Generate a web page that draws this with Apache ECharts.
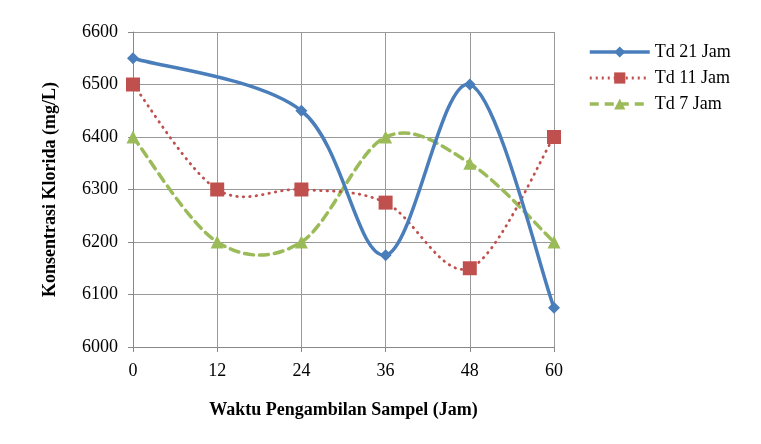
<!DOCTYPE html>
<html><head><meta charset="utf-8">
<script src="https://cdn.jsdelivr.net/npm/echarts@6/dist/echarts.min.js"></script>
<style>html,body{margin:0;padding:0;background:#fff}#c{width:761px;height:444px}</style>
</head><body><div id="c"></div>
<script>
const xTicks = [0, 12, 24, 36, 48, 60];
const td21X = [0, 24, 36, 48, 60];
const td21 = [6550, 6450, 6175, 6500, 6075];
const td11 = [6500, 6300, 6300, 6275, 6150, 6400];
const td7 = [6400, 6200, 6200, 6400, 6350, 6200];
const names = ['Td 21 Jam', 'Td 11 Jam', 'Td 7 Jam'];
const colors = ['#4a7ebb', '#c0504d', '#9bbb59'];
const font = 'Liberation Serif';

const sets = [
  {name: names[0], data: td21X.map((x, i) => [x, td21[i]]), symbol: 'diamond', size: 12, width: 3.5, dash: 'solid'},
  {name: names[1], data: xTicks.map((x, i) => [x, td11[i]]), symbol: 'rect', size: 14, width: 2.8, dash: [0.5, 6]},
  {name: names[2], data: xTicks.map((x, i) => [x, td7[i]]), symbol: 'triangle', size: 13, width: 3.5, dash: [9, 6]}
];

function curveSeries(s, k) {
  return {
    type: 'custom', silent: true, z: 3 - k,
    data: [0],
    renderItem: function (params, api) {
      const p = s.data.map(d => api.coord(d));
      const n = p.length;
      let path = 'M' + p[0][0] + ' ' + p[0][1];
      for (let i = 0; i < n - 1; i++) {
        const p0 = p[Math.max(i - 1, 0)], p1 = p[i], p2 = p[i + 1], p3 = p[Math.min(i + 2, n - 1)];
        const c1 = [p1[0] + (p2[0] - p0[0]) / 6, p1[1] + (p2[1] - p0[1]) / 6];
        const c2 = [p2[0] - (p3[0] - p1[0]) / 6, p2[1] - (p3[1] - p1[1]) / 6];
        path += ' C' + c1[0] + ' ' + c1[1] + ' ' + c2[0] + ' ' + c2[1] + ' ' + p2[0] + ' ' + p2[1];
      }
      return {
        type: 'path',
        shape: {pathData: path},
        style: {fill: null, stroke: colors[k], lineWidth: s.width, lineDash: s.dash === 'solid' ? null : s.dash, lineCap: 'round'}
      };
    }
  };
}

const chart = echarts.init(document.getElementById('c'));
chart.setOption({
  animation: false,
  grid: {left: 133, right: 207, top: 32, bottom: 97},
  legend: {
    orient: 'vertical', left: 583, top: 38, itemWidth: 60, itemHeight: 14, itemGap: 8,
    textStyle: {fontFamily: font, fontSize: 18, color: '#000'},
    data: names.map((n, k) => ({name: n, lineStyle: {opacity: 1, width: sets[k].width, type: k === 1 ? [2, 4] : sets[k].dash, color: colors[k]}}))
  },
  xAxis: {
    type: 'value', min: 0, max: 60, interval: 12,
    name: 'Waktu Pengambilan Sampel (Jam)', nameLocation: 'middle', nameGap: 54,
    nameTextStyle: {fontFamily: font, fontSize: 18, fontWeight: 'bold', color: '#000'},
    axisLine: {lineStyle: {color: '#888'}},
    axisTick: {show: true, length: 5, inside: false, lineStyle: {color: '#888'}},
    axisLabel: {fontFamily: font, fontSize: 18, color: '#000', margin: 15},
    splitLine: {show: true, lineStyle: {color: '#999'}}
  },
  yAxis: {
    type: 'value', min: 6000, max: 6600, interval: 100,
    name: 'Konsentrasi Klorida (mg/L)', nameLocation: 'middle', nameGap: 74,
    nameTextStyle: {fontFamily: font, fontSize: 18, fontWeight: 'bold', color: '#000'},
    axisLine: {show: true, lineStyle: {color: '#888'}},
    axisTick: {show: true, length: 5, lineStyle: {color: '#888'}},
    axisLabel: {fontFamily: font, fontSize: 18, color: '#000', margin: 15, formatter: v => String(v)},
    splitLine: {show: true, lineStyle: {color: '#999'}}
  },
  series: sets.map((s, k) => ({
    name: s.name, type: 'line', data: s.data, symbol: s.symbol, symbolSize: s.size,
    color: colors[k], itemStyle: {color: colors[k]},
    lineStyle: {opacity: 0, width: s.width, type: s.dash, color: colors[k]}, z: 10 - k
  })).concat(sets.map((s, k) => curveSeries(s, k)))
});
</script></body></html>
